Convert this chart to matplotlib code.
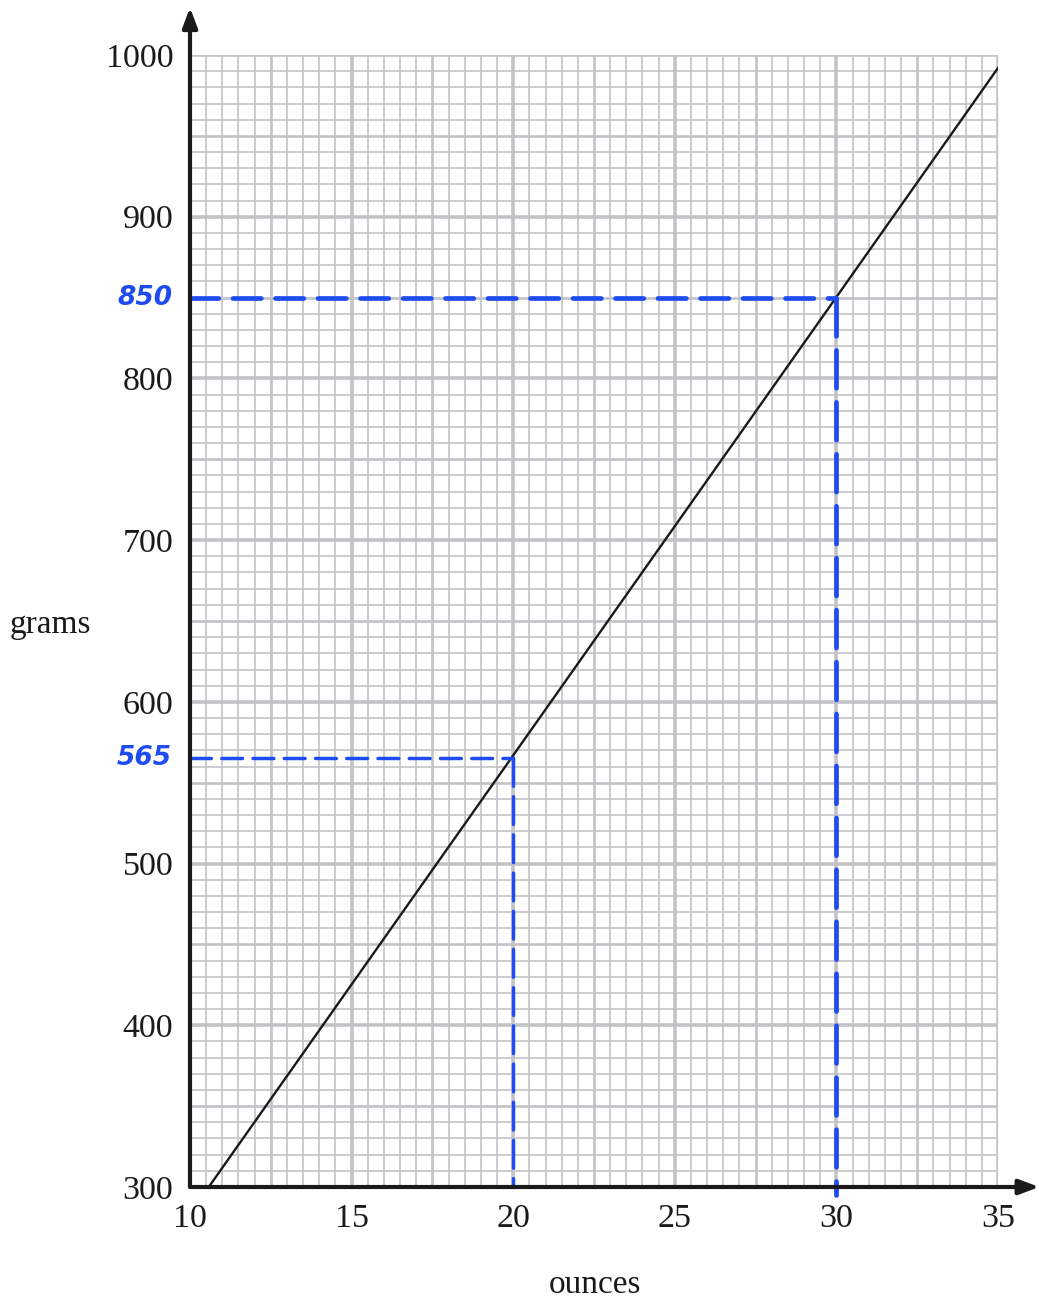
import numpy as np
import matplotlib.pyplot as plt

# conversion line (ounces -> grams)
line_oz = [10.58, 35.0]
line_g = [300, 992]

# readings drawn in blue
read_oz = [20, 30]
read_g = [565, 850]
read_labels = ["565", "850"]

x_ticks = [10, 15, 20, 25, 30, 35]
y_ticks = [300, 400, 500, 600, 700, 800, 900, 1000]

grid_col = "#c3c3c7"
blue = "#1f4cf0"

fig = plt.figure(figsize=(10.39, 12.99), dpi=100)
ax = fig.add_axes([190 / 1039, 1 - 1187 / 1299, 808 / 1039, 1132 / 1299])
ax.set_xlim(10, 35)
ax.set_ylim(300, 1000)

# graph paper grid: minor, medium, major
for xv in np.arange(10, 35.01, 0.5):
    if xv % 5 == 0:
        lw = 2.6
    elif xv % 2.5 == 0:
        lw = 1.9
    else:
        lw = 1.2
    ax.axvline(xv, color=grid_col, lw=lw, zorder=1)
for yv in np.arange(300, 1000.1, 10):
    if yv % 100 == 0:
        lw = 2.6
    elif yv % 50 == 0:
        lw = 1.9
    else:
        lw = 1.2
    ax.axhline(yv, color=grid_col, lw=lw, zorder=1)

# conversion line
ax.plot(line_oz, line_g, color="#1a1a1a", lw=1.7, zorder=3)

# blue reading lines
for oz, g, lab in zip(read_oz, read_g, read_labels):
    lw = 3.4 if oz == 30 else 2.5
    ax.plot([10, oz], [g, g], color=blue, lw=lw, ls=(0, (6, 3)),
            zorder=4, clip_on=False, dash_capstyle="round")
    ax.plot([oz, oz], [g, 295 if oz == 30 else 300], color=blue, lw=lw,
            ls=(0, (8, 3)), zorder=4, clip_on=False, dash_capstyle="round")
    ax.text(9.45, g, lab, color=blue, fontsize=19, style="italic", fontweight="bold",
            ha="right", va="center", fontfamily="DejaVu Sans")

# axes with arrows
for s in ax.spines.values():
    s.set_visible(False)
ax.annotate("", xy=(0, 1.042), xytext=(0, 0), xycoords="axes fraction",
            arrowprops=dict(arrowstyle="-|>,head_width=0.45,head_length=1.2",
                            color="#1a1a1a", lw=3.0, shrinkA=0, shrinkB=0),
            zorder=5, annotation_clip=False)
ax.annotate("", xy=(1.051, 0), xytext=(0, 0), xycoords="axes fraction",
            arrowprops=dict(arrowstyle="-|>,head_width=0.45,head_length=1.2",
                            color="#1a1a1a", lw=3.0, shrinkA=0, shrinkB=0),
            zorder=5, annotation_clip=False)

ax.set_xticks(x_ticks)
ax.set_yticks(y_ticks)
ax.tick_params(length=0, labelsize=24.5, pad=12)
for t in ax.get_xticklabels() + ax.get_yticklabels():
    t.set_fontfamily("Liberation Serif")
    t.set_color("#1a1a1a")

fig.text(10 / 1039, 1 - 625 / 1299, "grams", fontsize=24, fontfamily="Liberation Serif",
         ha="left", va="center", color="#1a1a1a")
fig.text(595 / 1039, 1 - 1285 / 1299, "ounces", fontsize=24, fontfamily="Liberation Serif",
         ha="center", va="center", color="#1a1a1a")

fig.savefig("out.png", dpi=100)
